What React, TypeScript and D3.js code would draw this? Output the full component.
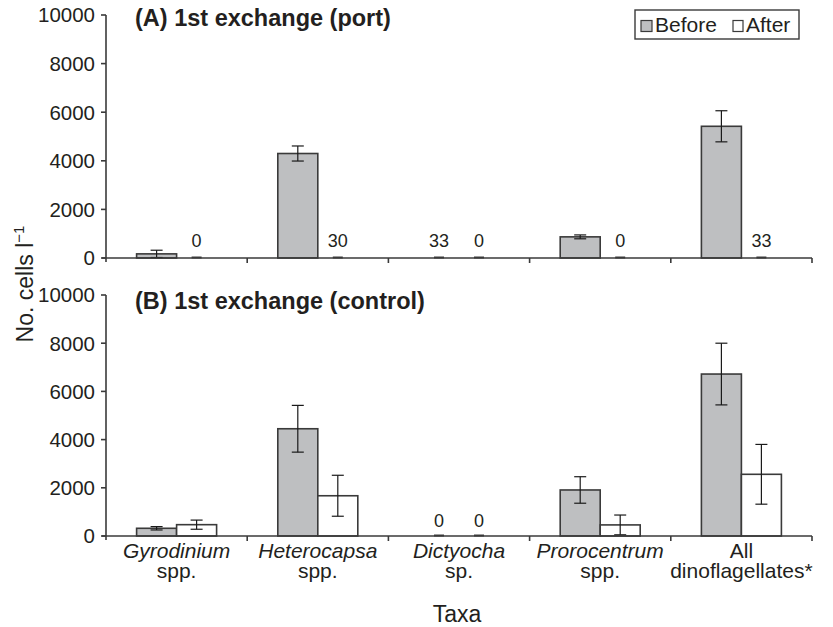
import React from "react";
import * as d3 from "d3";

const categories = ["Gyrodinium", "Heterocapsa", "Dictyocha", "Prorocentrum", "All"];
const catLine1 = ["Gyrodinium", "Heterocapsa", "Dictyocha", "Prorocentrum", "All"];
const catLine2 = ["spp.", "spp.", "sp.", "spp.", "dinoflagellates*"];
const catItalic = [true, true, true, true, false];

const portBefore = [170, 4300, 33, 870, 5420];
const portBeforeErr = [150, 310, 0, 80, 640];
const portAfter = [0, 30, 0, 0, 33];
const portAfterErr = [0, 0, 0, 0, 0];
const portBeforeLabel = [null, null, "33", null, null];
const portAfterLabel = ["0", "30", "0", "0", "33"];

const ctrlBefore = [320, 4450, 0, 1910, 6720];
const ctrlBeforeErr = [70, 970, 0, 550, 1280];
const ctrlAfter = [470, 1670, 0, 460, 2560];
const ctrlAfterErr = [190, 850, 0, 410, 1240];
const ctrlBeforeLabel = [null, null, "0", null, null];
const ctrlAfterLabel = [null, null, "0", null, null];

const yTicks = [0, 2000, 4000, 6000, 8000, 10000];
const seriesNames = ["Before", "After"];

const FONT = "'Liberation Sans', Arial, Helvetica, sans-serif";
const TXT = "#231f20";
const GRAY = "#bebfc1";
const STROKE = "#3a3a3a";

const x = d3.scaleBand<string>().domain(categories).range([106, 812]).padding(0);
const BW = 40;

type PanelProps = {
  y0: number;
  y1: number;
  title: string;
  titleY: number;
  before: number[];
  beforeErr: number[];
  after: number[];
  afterErr: number[];
  beforeLabel: (string | null)[];
  afterLabel: (string | null)[];
  labelOffset: number;
};

function Panel(p: PanelProps) {
  const y = d3.scaleLinear().domain([0, 10000]).range([p.y0, p.y1]);
  const bars = (vals: number[], errs: number[], labels: (string | null)[], side: number, fill: string) =>
    categories.map((c, i) => {
      const cx = (x(c) as number) + x.bandwidth() / 2;
      const left = side === 0 ? cx - BW : cx;
      const v = vals[i];
      const top = y(v);
      const h = y(0) - top;
      const mid = left + BW / 2;
      const e = errs[i];
      return (
        <g key={c + side}>
          {h > 1.5 ? (
            <rect x={left} y={top} width={BW} height={h} fill={fill} stroke={STROKE} strokeWidth={1.6} />
          ) : (
            <line x1={mid - 5} x2={mid + 5} y1={y(0) - 0.5} y2={y(0) - 0.5} stroke={STROKE} strokeWidth={2} />
          )}
          {e > 0 && (
            <g stroke="#1a1a1a" strokeWidth={1.2}>
              <line x1={mid} x2={mid} y1={y(v + e)} y2={y(Math.max(0, v - e))} />
              <line x1={mid - 6} x2={mid + 6} y1={y(v + e)} y2={y(v + e)} />
              <line x1={mid - 6} x2={mid + 6} y1={y(Math.max(0, v - e))} y2={y(Math.max(0, v - e))} />
            </g>
          )}
          {labels[i] && (
            <text x={mid} y={y(0) - p.labelOffset} textAnchor="middle" fontSize={18} fill={TXT} fontFamily={FONT}>
              {labels[i]}
            </text>
          )}
        </g>
      );
    });
  return (
    <g>
      {bars(p.before, p.beforeErr, p.beforeLabel, 0, GRAY)}
      {bars(p.after, p.afterErr, p.afterLabel, 1, "#ffffff")}
      <line x1={106} x2={106} y1={p.y1} y2={p.y0 + 4} stroke={STROKE} strokeWidth={1.6} />
      <line x1={102} x2={812} y1={p.y0} y2={p.y0} stroke={STROKE} strokeWidth={1.6} />
      {yTicks.map((t) => (
        <g key={t}>
          <line x1={101} x2={106} y1={y(t)} y2={y(t)} stroke={STROKE} strokeWidth={1.6} />
          <text x={95} y={y(t)} dy="0.36em" textAnchor="end" fontSize={20.5} fill={TXT} fontFamily={FONT}>
            {t}
          </text>
        </g>
      ))}
      {categories.map((c) => {
        const xe = (x(c) as number) + x.bandwidth();
        return <line key={c} x1={xe} x2={xe} y1={p.y0} y2={p.y0 + 5} stroke={STROKE} strokeWidth={1.6} />;
      })}
      <text x={135} y={p.titleY} fontSize={23.5} fontWeight="bold" fill={TXT} fontFamily={FONT}>
        {p.title}
      </text>
    </g>
  );
}

export default function App() {
  return (
    <svg width={833} height={627} style={{ position: "absolute", left: 0, top: 0, background: "#fff" }}>
      <rect x={0} y={0} width={833} height={627} fill="#fff" />
      <Panel
        y0={258}
        y1={15}
        title="(A) 1st exchange (port)"
        titleY={26}
        before={portBefore}
        beforeErr={portBeforeErr}
        after={portAfter}
        afterErr={portAfterErr}
        beforeLabel={portBeforeLabel}
        afterLabel={portAfterLabel}
        labelOffset={11.5}
      />
      <Panel
        y0={536}
        y1={295}
        title="(B) 1st exchange (control)"
        titleY={308.5}
        before={ctrlBefore}
        beforeErr={ctrlBeforeErr}
        after={ctrlAfter}
        afterErr={ctrlAfterErr}
        beforeLabel={ctrlBeforeLabel}
        afterLabel={ctrlAfterLabel}
        labelOffset={9}
      />
      {categories.map((c, i) => {
        const cx = (x(c) as number) + x.bandwidth() / 2;
        return (
          <g key={c} fontFamily={FONT} fontSize={21} fill={TXT} textAnchor="middle">
            <text x={cx} y={558} fontStyle={catItalic[i] ? "italic" : "normal"}>
              {catLine1[i]}
            </text>
            <text x={cx} y={578}>{catLine2[i]}</text>
          </g>
        );
      })}
      <text x={457} y={622} textAnchor="middle" fontSize={23} fill={TXT} fontFamily={FONT}>
        Taxa
      </text>
      <text transform="translate(33,284) rotate(-90)" textAnchor="middle" fontSize={23} fill={TXT} fontFamily={FONT}>
        No. cells l
        <tspan dy={-9} fontSize={15}>−1</tspan>
      </text>
      <g fontFamily={FONT} fontSize={21} fill={TXT}>
        <rect x={635} y={10} width={164} height={29} fill="#fff" stroke={STROKE} strokeWidth={1.4} />
        <rect x={641} y={20.5} width={11} height={11} fill={GRAY} stroke={STROKE} strokeWidth={1.2} />
        <text x={655} y={31.7}>{seriesNames[0]}</text>
        <rect x={733} y={20.5} width={10} height={11} fill="#fff" stroke={STROKE} strokeWidth={1.2} />
        <text x={746} y={31.7}>{seriesNames[1]}</text>
      </g>
    </svg>
  );
}
